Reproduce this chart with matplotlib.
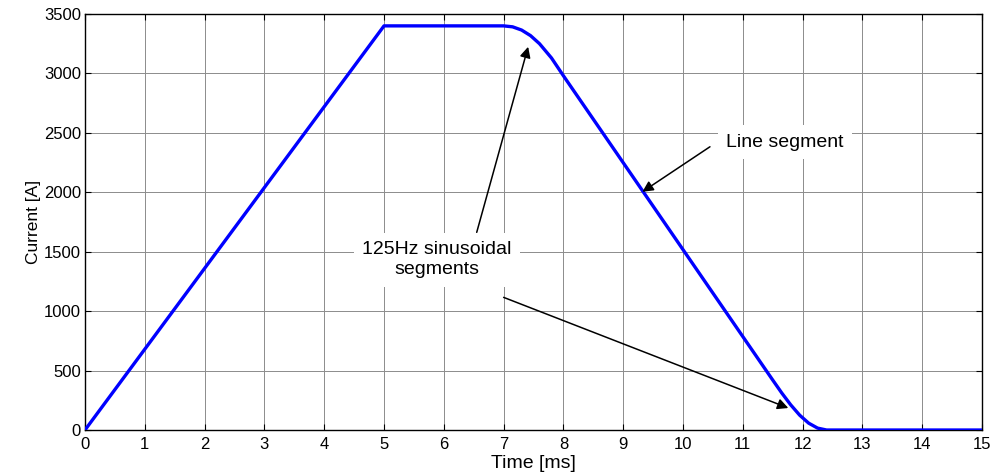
import matplotlib.pyplot as plt

plt.rcParams['font.family'] = ['Liberation Sans', 'DejaVu Sans']

# current waveform (time in ms, current in A)
time_ms = [0, 5, 7, 7.15, 7.3, 7.45, 7.6, 7.8, 8.0,
           11.5, 11.65, 11.8, 11.95, 12.1, 12.25, 12.4, 15]
current = [0, 3400, 3400, 3392, 3365, 3318, 3250, 3130, 2980,
           420, 312, 212, 125, 58, 16, 0, 0]

x_ticks = list(range(0, 16))
y_ticks = list(range(0, 3501, 500))

fig = plt.figure(figsize=(9.94, 4.76), dpi=100)
ax = fig.add_axes([0.0855, 0.0966, 0.9025, 0.874])

ax.plot(time_ms, current, color='#0000ff', lw=2.4, zorder=3)

ax.set_xlim(0, 15)
ax.set_ylim(0, 3500)
ax.set_xticks(x_ticks)
ax.set_yticks(y_ticks)
ax.grid(True, color='#8c8c8c', lw=0.7)
ax.tick_params(direction='in', top=True, right=True, labelsize=12,
               length=4, pad=3)
ax.tick_params(axis='x', pad=5)
for s in ax.spines.values():
    s.set_linewidth(1.0)

ax.set_xlabel('Time [ms]', fontsize=14, labelpad=2)
ax.set_ylabel('Current [A]', fontsize=12.5, labelpad=2)

arrow = dict(arrowstyle='-|>', color='black', lw=1.1, mutation_scale=16,
             shrinkA=0, shrinkB=0)
box = dict(facecolor='white', edgecolor='none', pad=6)

ax.annotate('', xy=(9.32, 2004), xytext=(10.45, 2383), arrowprops=arrow, zorder=4)
ax.text(11.70, 2422, 'Line segment', ha='center', va='center', fontsize=14,
        bbox=box, zorder=5)

ax.annotate('', xy=(7.41, 3224), xytext=(6.55, 1663), arrowprops=arrow, zorder=4)
ax.annotate('', xy=(11.76, 185), xytext=(7.0, 1116), arrowprops=arrow, zorder=4)
ax.text(5.88, 1434, '125Hz sinusoidal\nsegments', ha='center', va='center',
        fontsize=14, bbox=box, zorder=5, linespacing=1.25)

fig.savefig('out.png', dpi=100)
